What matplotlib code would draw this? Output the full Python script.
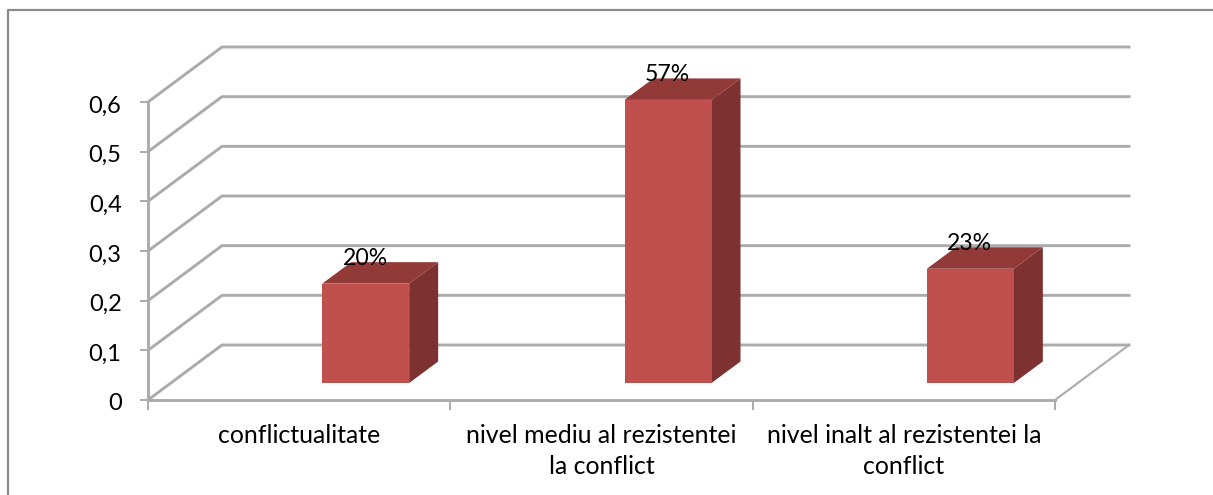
import numpy as np
import matplotlib
matplotlib.use("Agg")
import matplotlib.pyplot as plt
from matplotlib.patches import Polygon, Rectangle
from matplotlib.transforms import offset_copy

categories = ["conflictualitate",
              "nivel mediu al rezistentei\nla conflict",
              "nivel inalt al rezistentei la\nconflict"]
values = [0.20, 0.57, 0.23]
value_labels = ["20%", "57%", "23%"]
y_ticks = [0, 0.1, 0.2, 0.3, 0.4, 0.5, 0.6]
y_tick_labels = ["0", "0,1", "0,2", "0,3", "0,4", "0,5", "0,6"]

plt.rcParams["font.family"] = ["Lato", "DejaVu Sans"]

W, H = 1213, 495
GRID = "#ababab"
FRONT = "#c0504d"
TOP = "#923a38"
SIDE = "#7d3130"

fig = plt.figure(figsize=(W / 100, H / 100), dpi=100)
# axes box = the front plane of the fake 3d chart
ax = fig.add_axes([148 / W, (H - 400) / H, (1055 - 148) / W, 298 / H])
ax.set_xlim(0, 3)
ax.set_ylim(0, 0.6)
ax.patch.set_alpha(0)

# depth of the floor, in data units
px_x = 3 / (1055 - 148)
px_y = 0.6 / 298
dx = 74 * px_x
dy = 55 * px_y

# outer frame of the chart (open on the right and at the bottom)
fig.add_artist(plt.Line2D([8 / W, 8 / W, 1], [0, (H - 10) / H, (H - 10) / H],
                          color="#8c8c8c", lw=1.6))

# walls and gridlines
for t in y_ticks:
    ax.plot([0, dx, 3 + dx], [t, t + dy, t + dy], color=GRID, lw=2.1,
            clip_on=False, zorder=1, solid_joinstyle="miter")
ax.plot([3, 3 + dx], [0, dy], color=GRID, lw=1.5, clip_on=False, zorder=1)

# bars
bar_w = 87 * px_x
bar_dx = 29 * px_x
bar_dy = 21.5 * px_y
base = 17 * px_y
offset = 66.5 * px_x
for i, v in enumerate(values):
    x0 = i + 0.5 + offset - bar_w / 2
    x1 = x0 + bar_w
    y0 = base
    y1 = base + v
    ax.add_patch(Polygon([(x1, y0), (x1 + bar_dx, y0 + bar_dy),
                          (x1 + bar_dx, y1 + bar_dy), (x1, y1)],
                         fc=SIDE, ec="none", clip_on=False, zorder=3))
    ax.add_patch(Polygon([(x0, y1), (x0 + bar_dx, y1 + bar_dy),
                          (x1 + bar_dx, y1 + bar_dy), (x1, y1)],
                         fc=TOP, ec="none", clip_on=False, zorder=3))
    ax.add_patch(Rectangle((x0, y0), bar_w, v, fc=FRONT, ec="none",
                           clip_on=False, zorder=4))
    ax.annotate(value_labels[i], (i + 0.5 + offset, y1), xytext=(-0.5, 18.2),
                textcoords="offset points", ha="center", va="center",
                fontsize=16.6, color="black", zorder=5, annotation_clip=False)

for s in ["top", "right"]:
    ax.spines[s].set_visible(False)
for s in ["left", "bottom"]:
    ax.spines[s].set_color(GRID)
    ax.spines[s].set_linewidth(2.1)
    ax.spines[s].set_zorder(2)

ax.set_yticks(y_ticks)
ax.set_yticklabels(y_tick_labels, fontsize=17)
ax.tick_params(axis="y", length=6, width=1.4, color=GRID, pad=13)
# digits sit a bit lower than the ticks in the original
for lab in ax.get_yticklabels():
    lab.set_transform(offset_copy(lab.get_transform(), fig=fig, y=-2, units="dots"))

ax.set_xticks(np.arange(4))
ax.set_xticklabels([])
ax.set_xticks(np.arange(3) + 0.5, minor=True)
ax.set_xticklabels(categories, minor=True, fontsize=17.9, linespacing=1.44)
ax.tick_params(axis="x", which="major", length=7, width=1.4, color=GRID)
ax.tick_params(axis="x", which="minor", length=0, pad=17)

fig.savefig("out.png", dpi=100)
